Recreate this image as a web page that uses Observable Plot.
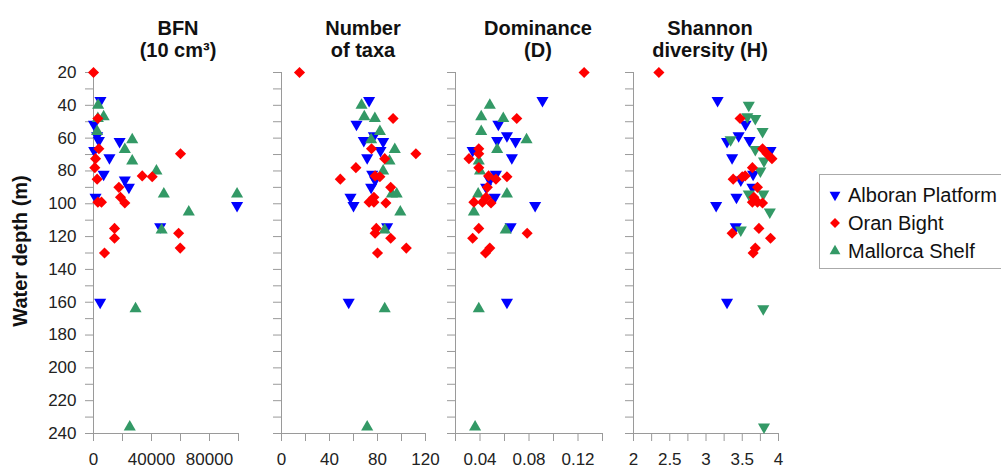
<!DOCTYPE html>
<html>
<head>
<meta charset="utf-8">
<script src="https://cdn.jsdelivr.net/npm/d3@7"></script>
<script src="https://cdn.jsdelivr.net/npm/@observablehq/plot@0.6"></script>
<style>
  html, body { margin: 0; padding: 0; background: #fff; overflow: hidden; }
  #chart { position: relative; width: 1001px; height: 468px; font-family: Arial, "Liberation Sans", sans-serif; color: #111; }
  .panel { position: absolute; top: 0; }
  .title { position: absolute; top: 17px; transform: translateX(-50%); font-weight: bold; font-size: 20px; line-height: 22px; text-align: center; white-space: nowrap; color: #111; }
  .ylabel { position: absolute; left: 20px; top: 251px; transform: translate(-50%, -50%) rotate(-90deg); font-weight: bold; font-size: 20px; white-space: nowrap; color: #111; }
  .legend { position: absolute; left: 819px; top: 174px; width: 220px; height: 95px; border: 1px solid #aaa; box-sizing: border-box; background: #fff; }
  .legend .row { position: absolute; left: 0; height: 24px; display: flex; align-items: center; font-size: 20px; white-space: nowrap; color: #111; }
  .legend svg { margin-left: 8px; margin-right: 6px; }
</style>
</head>
<body>
<div id="chart"></div>
<script>
// Water depth (m) of each sample, with the four faunal measures, per region
const alboranDepth = [37, 51.5, 58.5, 61.4, 62, 67.5, 72, 82, 85.5, 90, 96, 101, 114, 160];
const alboranBFN = [4800, 300, 2500, 3700, 18000, 500, 11000, 7000, 21600, 24400, 1400, 99000, 46000, 4600];
const alboranTaxa = [73, 62.5, 77, 68.6, 84.7, 82.5, 71.4, 75.6, 78, 74.7, 57.5, 60, 88, 56];
const alboranDominance = [0.091, 0.055, 0.062, 0.054, 0.069, 0.034, 0.066, 0.053, 0.048, 0.045, 0.052, 0.085, 0.065, 0.062];
const alboranShannon = [3.16, 3.545, 3.45, 3.60, 3.29, 3.89, 3.36, 3.65, 3.48, 3.64, 3.42, 3.14, 3.41, 3.29];

const oranDepth = [20, 48, 66.5, 69.5, 72.5, 78, 83, 83.5, 85, 90, 96, 99, 99, 99.5, 115, 118, 121, 127, 130];
const oranBFN = [0, 3000, 3700, 60000, 1400, 900, 33600, 40500, 2500, 17500, 18600, 3000, 5500, 21600, 14500, 58700, 14500, 59800, 7600];
const oranTaxa = [15, 93, 75, 112, 86, 62, 78, 82, 49, 91, 77, 73, 77, 87, 79, 78, 91, 104, 80];
const oranDominance = [0.125, 0.070, 0.039, 0.039, 0.031, 0.039, 0.047, 0.062, 0.053, 0.046, 0.045, 0.035, 0.042, 0.049, 0.039, 0.0785, 0.034, 0.048, 0.0445];
const oranShannon = [2.35, 3.47, 3.78, 3.84, 3.91, 3.64, 3.54, 3.50, 3.375, 3.71, 3.66, 3.64, 3.71, 3.78, 3.73, 3.36, 3.89, 3.68, 3.65];

const mallorcaDepth = [40, 47, 48, 56, 61, 67, 74, 80, 94, 94, 105, 116, 164, 236];
const mallorcaBFN = [3200, 7000, 3000, 2500, 26700, 21600, 26700, 43400, 48500, 99000, 65700, 47000, 29000, 25000];
const mallorcaTaxa = [66.7, 69, 77.8, 82, 74.7, 94.4, 90, 84.7, 92, 96, 99, 86, 86, 71.4];
const mallorcaDominance = [0.048, 0.041, 0.059, 0.041, 0.078, 0.054, 0.039, 0.040, 0.0385, 0.062, 0.035, 0.061, 0.039, 0.036];
const mallorcaShannon = [3.59, 3.57, 3.68, 3.78, 3.34, 3.68, 3.80, 3.75, 3.59, 3.79, 3.88, 3.48, 3.79, 3.80];

const regionNames = ["Alboran Platform", "Oran Bight", "Mallorca Shelf"];

// Axis ticks and the subset that carries a label
const depthTicks = [20, 30, 40, 50, 60, 70, 80, 90, 100, 110, 120, 130, 140, 150, 160, 170, 180, 190, 200, 210, 220, 230, 240];
const depthTickLabels = [20, 40, 60, 80, 100, 120, 140, 160, 180, 200, 220, 240];
const bfnTicks = [0, 20000, 40000, 60000, 80000, 100000];
const bfnTickLabels = [0, 40000, 80000];
const taxaTicks = [0, 20, 40, 60, 80, 100, 120];
const taxaTickLabels = [0, 40, 80, 120];
const dominanceTicks = [0.02, 0.04, 0.06, 0.08, 0.10, 0.12, 0.14];
const dominanceTickLabels = [0.04, 0.08, 0.12];
const shannonTicks = [2, 2.25, 2.5, 2.75, 3, 3.25, 3.5, 3.75, 4];
const shannonTickLabels = [2, 2.5, 3, 3.5, 4];

// Marker shapes
const triangleDown = {
  draw(context, size) {
    const y = -Math.sqrt(size / (Math.sqrt(3) * 3));
    context.moveTo(0, -y * 2);
    context.lineTo(-Math.sqrt(3) * y, y);
    context.lineTo(Math.sqrt(3) * y, y);
    context.closePath();
  }
};
const triangleUp = d3.symbolTriangle;
const diamond = d3.symbolDiamond2;

function rows(depth, bfn, taxa, dominance, shannon) {
  return depth.map((d, i) => ({depth: d, bfn: bfn[i], taxa: taxa[i], dominance: dominance[i], shannon: shannon[i]}));
}

const regions = [
  {name: regionNames[0], color: "#0000ff", symbol: triangleDown, r: 4.5,
   data: rows(alboranDepth, alboranBFN, alboranTaxa, alboranDominance, alboranShannon)},
  {name: regionNames[2], color: "#339966", symbol: triangleUp, r: 4.5,
   data: rows(mallorcaDepth, mallorcaBFN, mallorcaTaxa, mallorcaDominance, mallorcaShannon)},
  {name: regionNames[1], color: "#ff0000", symbol: diamond, r: 5,
   data: rows(oranDepth, oranBFN, oranTaxa, oranDominance, oranShannon)}
];

const panels = [
  {key: "bfn", title: "BFN<br>(10 cm³)", titleX: 178, left: 0, width: 250, marginLeft: 93, marginRight: 12,
   domain: [0, 100000], ticks: bfnTicks, labels: bfnTickLabels, depthLabels: true},
  {key: "taxa", title: "Number<br>of taxa", titleX: 363, left: 250, width: 190, marginLeft: 31, marginRight: 15,
   domain: [0, 120], ticks: taxaTicks, labels: taxaTickLabels, depthLabels: false},
  {key: "dominance", title: "Dominance<br>(D)", titleX: 538, left: 440, width: 175, marginLeft: 15, marginRight: 13,
   domain: [0.02, 0.14], ticks: dominanceTicks, labels: dominanceTickLabels, depthLabels: false},
  {key: "shannon", title: "Shannon<br>diversity (H)", titleX: 710, left: 615, width: 180, marginLeft: 18, marginRight: 17,
   domain: [2, 4], ticks: shannonTicks, labels: shannonTickLabels, depthLabels: false, mallorcaDown: true}
];

const chart = document.getElementById("chart");
const axisGray = "#9a9a9a";
const textColor = "#222";

for (const p of panels) {
  const dots = regions.map(reg => Plot.dot(reg.data, {
    x: p.key,
    y: "depth",
    symbol: (p.mallorcaDown && reg.symbol === triangleUp) ? triangleDown : reg.symbol,
    r: reg.r,
    fill: reg.color,
    stroke: "none"
  }));

  const svg = Plot.plot({
    width: p.width,
    height: 468,
    marginLeft: p.marginLeft,
    marginRight: p.marginRight,
    marginTop: 72,
    marginBottom: 35,
    style: {overflow: "visible", background: "transparent", fontFamily: 'Arial, "Liberation Sans", sans-serif', fontSize: "17px", color: textColor},
    x: {domain: p.domain},
    y: {domain: [20, 240], reverse: true},
    marks: [
      Plot.axisY({ticks: depthTicks, tickSize: 8, tickPadding: 9, label: null, stroke: axisGray, fill: textColor,
        tickFormat: d => (p.depthLabels && depthTickLabels.includes(d)) ? String(d) : ""}),
      Plot.axisX({ticks: p.ticks, tickSize: 8, tickPadding: 11, label: null, stroke: axisGray, fill: textColor,
        tickFormat: d => p.labels.includes(d) ? String(d) : ""}),
      Plot.ruleX([p.domain[0]], {stroke: axisGray}),
      Plot.ruleY([240], {stroke: axisGray}),
      ...dots
    ]
  });

  const holder = document.createElement("div");
  holder.className = "panel";
  holder.style.left = p.left + "px";
  holder.style.width = p.width + "px";
  holder.appendChild(svg);
  chart.appendChild(holder);

  const t = document.createElement("div");
  t.className = "title";
  t.style.left = p.titleX + "px";
  t.innerHTML = p.title;
  chart.appendChild(t);
}

const yl = document.createElement("div");
yl.className = "ylabel";
yl.textContent = "Water depth (m)";
chart.appendChild(yl);

// Legend, in series order
const legend = document.createElement("div");
legend.className = "legend";
const legendOrder = [regions[0], regions[2], regions[1]];
legendOrder.forEach((reg, i) => {
  const row = document.createElement("div");
  row.className = "row";
  row.style.top = (8 + i * 28) + "px";
  const size = reg.r * reg.r * Math.PI * 0.8;
  const path = d3.symbol(reg.symbol, size)();
  row.innerHTML = `<svg width="14" height="14" viewBox="-7 -7 14 14"><path d="${path}" fill="${reg.color}"></path></svg><span>${reg.name}</span>`;
  legend.appendChild(row);
});
chart.appendChild(legend);
</script>
</body>
</html>
